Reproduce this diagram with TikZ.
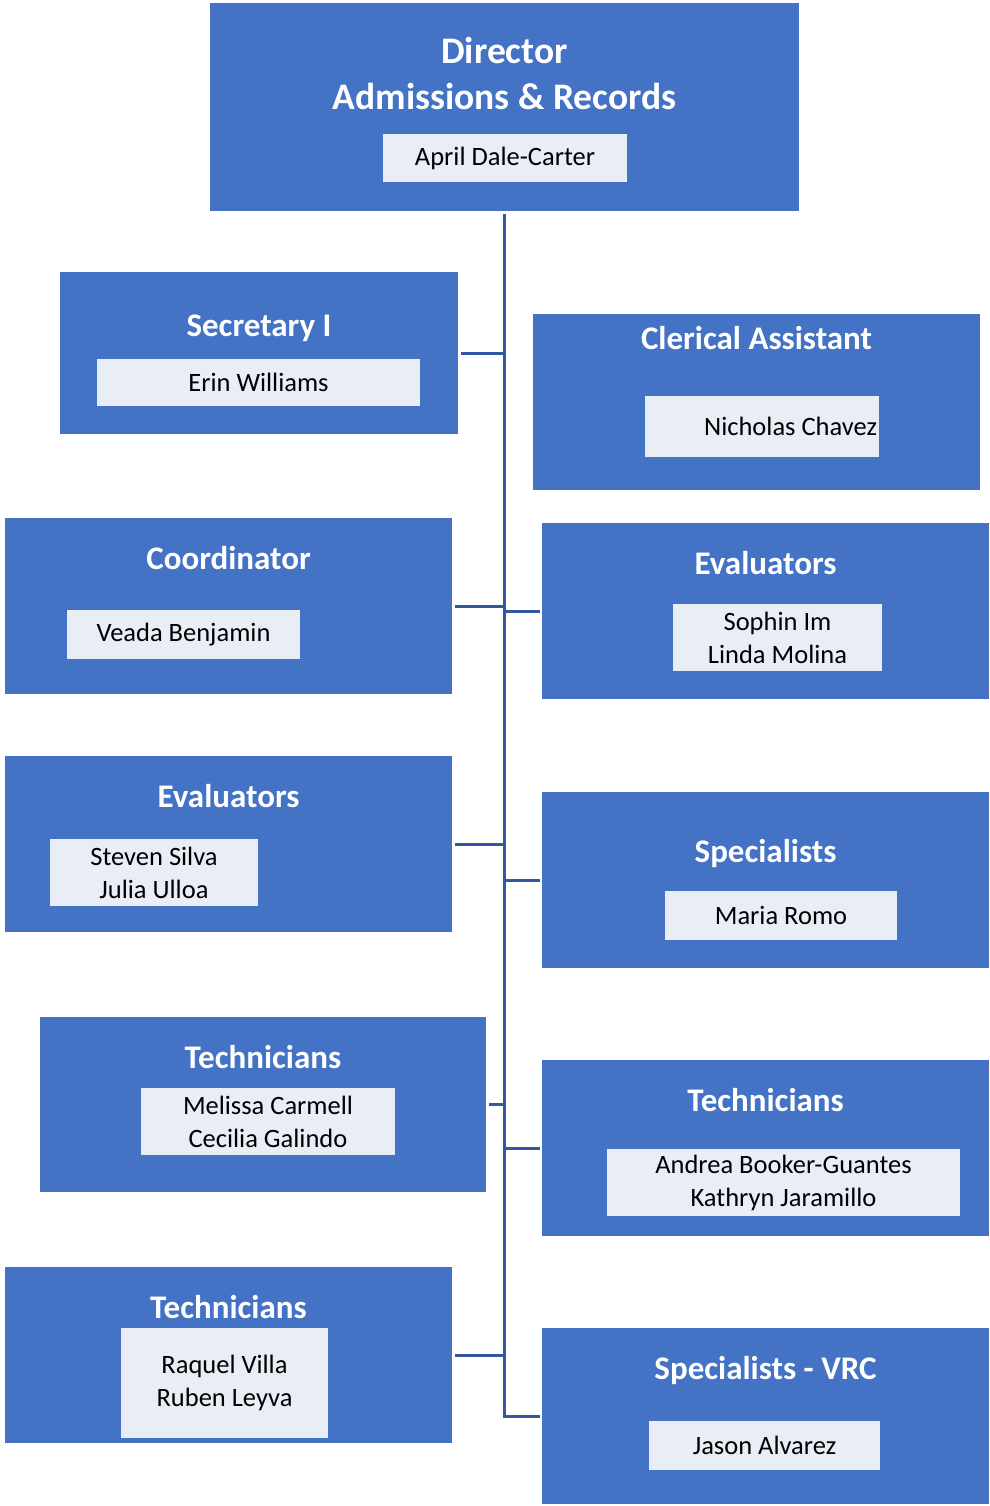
\documentclass[tikz,border=0pt]{standalone}
\usepackage{fontspec}
\setmainfont{Carlito}
\definecolor{boxblue}{HTML}{4472C4}
\definecolor{namefill}{HTML}{E9EDF6}
\definecolor{linkblue}{HTML}{3357A0}
\begin{document}
\begin{tikzpicture}[x=1pt,y=-1pt,
  unit/.style={fill=boxblue,draw=none,anchor=north west,inner sep=0pt},
  ttl/.style={text=white,font=\fontsize{33}{38}\selectfont\bfseries,inner sep=0pt,anchor=base},
  namebox/.style={fill=namefill,draw=none,inner sep=0pt,align=center,font=\fontsize{26.5}{33}\selectfont,text=black},
  link/.style={draw=linkblue,line width=3pt}
]
\useasboundingbox (0,0) rectangle (989,1506);
% Director
\node[unit,minimum width=589pt,minimum height=208pt] (dir) at (210,3) {};
\node[ttl,font=\fontsize{37.5}{46}\selectfont\bfseries,align=center,anchor=north] (dirt) at (504.5,37) {Director\\Admissions \& Records};
\node[namebox,minimum width=244pt,minimum height=48pt] (dirn) at (505,158) {April Dale-Carter};
% Secretary
\node[unit,minimum width=398pt,minimum height=162pt] (sec) at (60,272) {};
\node[ttl] (sect) at (259,336) {Secretary I};
\node[namebox,minimum width=323pt,minimum height=47pt] (secn) at (258.5,382.5) {Erin Williams};
% Clerical
\node[unit,minimum width=447pt,minimum height=176pt] (cler) at (533,314) {};
\node[ttl] (clert) at (756.5,349) {Clerical Assistant};
\node[namebox,minimum width=234pt,minimum height=61pt,text width=230pt,align=flush right] (clern) at (762,426.5) {Nicholas Chavez};
% Coordinator
\node[unit,minimum width=447pt,minimum height=176pt] (coord) at (5,518) {};
\node[ttl] (coordt) at (228.5,569) {Coordinator};
\node[namebox,minimum width=233pt,minimum height=49pt] (coordn) at (183.5,634.5) {Veada Benjamin};
% Evaluators right
\node[unit,minimum width=447pt,minimum height=176pt] (evr) at (542,523) {};
\node[ttl] (evrt) at (765.5,574) {Evaluators};
\node[namebox,minimum width=209pt,minimum height=67pt] (evrn) at (777.5,637.5) {Sophin Im\\Linda Molina};
% Evaluators left
\node[unit,minimum width=447pt,minimum height=176pt] (evl) at (5,756) {};
\node[ttl] (evlt) at (228.5,807) {Evaluators};
\node[namebox,minimum width=208pt,minimum height=67pt] (evln) at (154,872.5) {Steven Silva\\Julia Ulloa};
% Specialists
\node[unit,minimum width=447pt,minimum height=176pt] (spec) at (542,792) {};
\node[ttl] (spect) at (765.5,862) {Specialists};
\node[namebox,minimum width=232pt,minimum height=49pt] (specn) at (781,915.5) {Maria Romo};
% Technicians left 1
\node[unit,minimum width=446pt,minimum height=175pt] (tl1) at (40,1017) {};
\node[ttl] (tl1t) at (263,1068) {Technicians};
\node[namebox,minimum width=254pt,minimum height=67pt] (tl1n) at (268,1121.5) {Melissa Carmell\\Cecilia Galindo};
% Technicians right
\node[unit,minimum width=447pt,minimum height=176pt] (tr) at (542,1060) {};
\node[ttl] (trt) at (765.5,1111) {Technicians};
\node[namebox,minimum width=353pt,minimum height=67pt] (trn) at (783.5,1182.5) {Andrea Booker-Guantes\\Kathryn Jaramillo};
% Technicians left 2
\node[unit,minimum width=447pt,minimum height=176pt] (tl2) at (5,1267) {};
\node[ttl] (tl2t) at (228.5,1318) {Technicians};
\node[namebox,minimum width=207pt,minimum height=110pt] (tl2n) at (224.5,1383) {Raquel Villa\\Ruben Leyva};
% Specialists VRC
\node[unit,minimum width=447pt,minimum height=176pt] (vrc) at (542,1328) {};
\node[ttl] (vrct) at (765.5,1379) {Specialists - VRC};
\node[namebox,minimum width=231pt,minimum height=49pt] (vrcn) at (764.5,1445.5) {Jason Alvarez};
% connectors
\draw[link,shorten <=3pt,shorten >=2pt] (dir.south) |- (vrc.west);
\draw[link,shorten <=3pt] (sec.east) -- (sec.east -| dir.south);
\draw[link,shorten <=3pt] (coord.east) -- (coord.east -| dir.south);
\draw[link,shorten <=3pt] (evl.east) -- (evl.east -| dir.south);
\draw[link,shorten <=3pt] (tl1.east) -- (tl1.east -| dir.south);
\draw[link,shorten <=3pt] (tl2.east) -- (tl2.east -| dir.south);
\draw[link,shorten >=2pt] (evr.west -| dir.south) -- (evr.west);
\draw[link,shorten >=2pt] (spec.west -| dir.south) -- (spec.west);
\draw[link,shorten >=2pt] (tr.west -| dir.south) -- (tr.west);
\end{tikzpicture}
\end{document}
